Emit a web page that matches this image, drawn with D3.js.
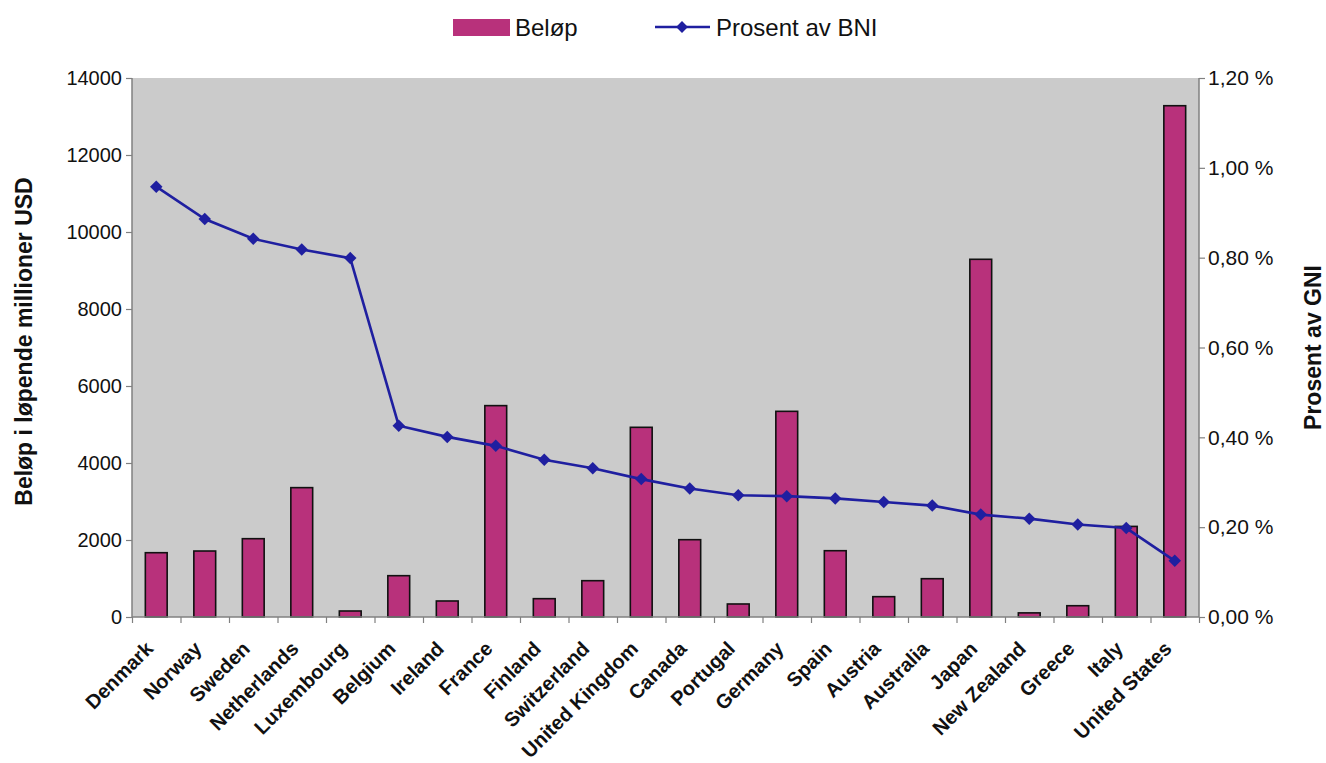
<!DOCTYPE html>
<html><head><meta charset="utf-8">
<script src="https://cdn.jsdelivr.net/npm/d3@7"></script>
<style>
html,body{margin:0;padding:0;background:#fff;}
svg{display:block;font-family:"Liberation Sans",Arial,sans-serif;}
</style></head>
<body>
<svg id="chart" width="1326" height="763"></svg>
<script>
const categories = ["Denmark","Norway","Sweden","Netherlands","Luxembourg","Belgium","Ireland","France","Finland","Switzerland","United Kingdom","Canada","Portugal","Germany","Spain","Austria","Australia","Japan","New Zealand","Greece","Italy","United States"];
const belop = [1670,1714,2034,3360,156,1073,416,5490,476,943,4927,2008,338,5342,1722,528,995,9291,107,293,2353,13280];
const prosent = [0.958,0.886,0.842,0.818,0.799,0.426,0.401,0.381,0.350,0.331,0.307,0.286,0.271,0.269,0.264,0.256,0.248,0.228,0.219,0.206,0.198,0.125];
const leftTicks = [0,2000,4000,6000,8000,10000,12000,14000];
const rightTicks = [0,0.2,0.4,0.6,0.8,1.0,1.2];
const seriesNames = ["Beløp","Prosent av BNI"];
const leftTitle = "Beløp i løpende millioner USD";
const rightTitle = "Prosent av GNI";

const L=132, R=1199, T=78, B=617;
const svg = d3.select("#chart");
const barColor = "#b8317b", lineColor = "#1f1fa0", axisColor = "#808080";

const x = d3.scaleBand().domain(categories).range([L,R]).paddingInner(0.55).paddingOuter(0.275);
const xi = d3.scaleLinear().domain([0,categories.length]).range([L,R]);
const y = d3.scaleLinear().domain([0,14000]).range([B,T]);
const y2 = d3.scaleLinear().domain([0,1.2]).range([B,T]);

svg.append("rect").attr("x",L).attr("y",T).attr("width",R-L).attr("height",B-T).attr("fill","#cbcbcb");

// bars
svg.append("g").selectAll("rect").data(categories).join("rect")
  .attr("x",d=>x(d)).attr("width",x.bandwidth())
  .attr("y",(d,i)=>y(belop[i])).attr("height",(d,i)=>B-y(belop[i]))
  .attr("fill",barColor).attr("stroke","#111").attr("stroke-width",1.6);

// axes
const gl = svg.append("g").attr("transform",`translate(${L},0)`)
  .call(d3.axisLeft(y).tickValues(leftTicks).tickSize(6).tickPadding(4).tickFormat(d3.format("d")));
const gr = svg.append("g").attr("transform",`translate(${R},0)`)
  .call(d3.axisRight(y2).tickValues(rightTicks).tickSize(6).tickPadding(3).tickFormat(d=>d3.format(".2f")(d).replace(".",",")+" %"));
const gb = svg.append("g").attr("transform",`translate(0,${B})`)
  .call(d3.axisBottom(xi).tickValues(d3.range(0,categories.length+1)).tickSize(6).tickFormat(""));
[gl,gr,gb].forEach(g=>{
  g.select(".domain").attr("stroke",axisColor).attr("stroke-width",1.5);
  g.selectAll(".tick line").attr("stroke",axisColor).attr("stroke-width",1.2);
  g.selectAll("text").attr("fill","#111").style("font-size","20px").style("font-family","Liberation Sans, Arial, sans-serif");
});
gr.selectAll("text").style("font-size","21px");
gl.select(".domain").attr("d",`M0,${T}V${B}`);
gr.select(".domain").attr("d",`M0,${T}V${B}`);
gb.select(".domain").attr("d",`M${L},0H${R}`);

// category labels
svg.append("g").selectAll("text").data(categories).join("text")
  .attr("transform",d=>`translate(${x(d)+x.bandwidth()/2-2},${B+33}) rotate(-45)`)
  .attr("text-anchor","end")
  .style("font-size","20px").style("font-weight","bold").attr("fill","#111")
  .text(d=>d);

// line
const cx = i => x(categories[i])+x.bandwidth()/2;
const line = d3.line().x((d,i)=>cx(i)).y(d=>y2(d));
svg.append("path").datum(prosent).attr("d",line).attr("fill","none").attr("stroke",lineColor).attr("stroke-width",2.6);
svg.append("g").selectAll("path").data(prosent).join("path")
  .attr("d",d3.symbol(d3.symbolSquare,78))
  .attr("transform",(d,i)=>`translate(${cx(i)},${y2(d)}) rotate(45)`)
  .attr("fill",lineColor);

// axis titles
svg.append("text").attr("transform",`translate(32,${(T+B)/2-6}) rotate(-90)`).attr("text-anchor","middle")
  .style("font-size","23px").style("font-weight","bold").attr("fill","#111").text(leftTitle);
svg.append("text").attr("transform",`translate(1321,${(T+B)/2}) rotate(-90)`).attr("text-anchor","middle")
  .style("font-size","23px").style("font-weight","bold").attr("fill","#111").text(rightTitle);

// legend
const lg = svg.append("g");
lg.append("rect").attr("x",453).attr("y",19).attr("width",57).attr("height",17).attr("fill",barColor);
lg.append("text").attr("x",515).attr("y",36).style("font-size","24px").attr("fill","#111").text(seriesNames[0]);
lg.append("line").attr("x1",655).attr("x2",710).attr("y1",27).attr("y2",27).attr("stroke",lineColor).attr("stroke-width",2.4);
lg.append("path").attr("transform","translate(682,27) rotate(45)").attr("d",d3.symbol(d3.symbolSquare,70)).attr("fill",lineColor);
lg.append("text").attr("x",716).attr("y",36).style("font-size","24px").attr("fill","#111").text(seriesNames[1]);
</script>
</body></html>
